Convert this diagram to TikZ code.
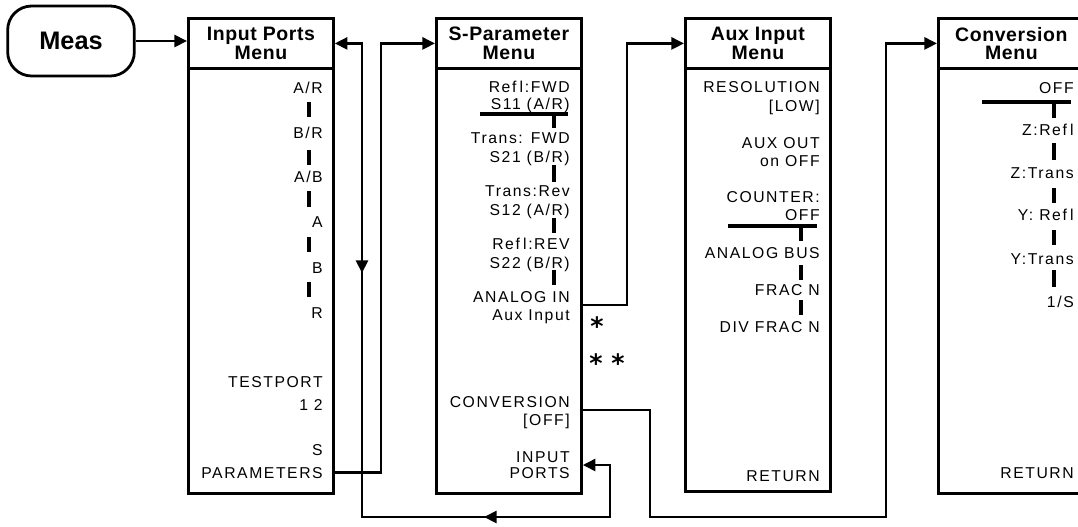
\documentclass[tikz,border=0pt]{standalone}
\usepackage{fontspec}
\setmainfont{Liberation Sans}
\newfontfamily\menuff[LetterSpace=10]{Liberation Sans}
\newfontfamily\headff[LetterSpace=3]{Liberation Sans}
\newfontfamily\astff{DejaVu Sans}
\usetikzlibrary{arrows.meta}
\tikzset{
  mbox/.style={draw, line width=2.1pt, anchor=north west, minimum width=108.75pt, minimum height=356.25pt, inner sep=0pt},
  hbox/.style={draw, line width=2.1pt, anchor=north west, minimum width=108.75pt, minimum height=37.5pt, inner sep=0pt, align=center, font=\headff\bfseries\fontsize{14.6}{13.8}\selectfont},
  itm/.style={anchor=base east, inner sep=0pt, font=\menuff\fontsize{11.8}{12}\selectfont},
  bar/.style={line width=2.3pt},
  conn/.style={line width=2.1pt},
  tip/.style={-{Triangle[length=9.5pt,width=9pt]}},
  ast/.style={anchor=base, inner sep=0pt, font=\astff\bfseries\fontsize{19}{19}\selectfont}
}
\begin{document}
\begin{tikzpicture}[x=0.75pt,y=-0.75pt]
\useasboundingbox (0,0) rectangle (1078,526);
\fill[white] (0,0) rectangle (1078,526);

% Meas
\node[draw, line width=2.1pt, rounded corners=18pt, minimum width=95pt, minimum height=52.5pt, inner sep=0pt, font=\bfseries\fontsize{19}{19}\selectfont] (meas) at (71,41) {Meas};

% Input Ports menu
\node[mbox] (ip) at (187,17) {};
\node[hbox] (iph) at (187,17) {Input Ports\\Menu};
\node[itm] (ip1) at (323,93) {A/R};
\node[itm] (ip2) at (323,138) {B/R};
\node[itm] (ip3) at (323,182) {A/B};
\node[itm] (ip4) at (323,227) {A};
\node[itm] (ip5) at (323,273) {B};
\node[itm] (ip6) at (323,318) {R};
\node[itm] (ip7) at (323,387) {TESTPORT};
\node[itm] (ip8) at (323,410) {1 2};
\node[itm] (ip9) at (323,455) {S};
\node[itm] (ip10) at (323,478) {PARAMETERS};
\foreach \a/\b in {102/117,150/165,191/207,237/252,282/297}
  \draw[bar] (309,\a) -- (309,\b);

% S-Parameter menu
\node[mbox] (sp) at (435,17) {};
\node[hbox] (sph) at (435,17) {S-Parameter\\Menu};
\node[itm] (sp1) at (570,92) {Ref\kern2.5pt l:FWD};
\node[itm] (sp2) at (570,109) {S11 (A/R)};
\node[itm] (sp3) at (570,143) {Trans: FWD};
\node[itm] (sp4) at (570,162) {S21 (B/R)};
\node[itm] (sp5) at (570,196) {Trans:Rev};
\node[itm] (sp6) at (570,215) {S12 (A/R)};
\node[itm] (sp7) at (570,249) {Ref\kern2.5pt l:REV};
\node[itm] (sp8) at (570,268) {S22 (B/R)};
\node[itm] (sp9) at (570,302) {ANALOG IN};
\node[itm] (sp10) at (570,320) {Aux Input};
\node[itm] (sp11) at (570,407) {CONVERSION};
\node[itm] (sp12) at (570,425) {[OFF]};
\node[itm] (sp13) at (570,462) {INPUT};
\node[itm] (sp14) at (570,478) {PORTS};
\draw[bar] (480,114) -- (568,114);
\foreach \a/\b in {114/128,165/182,218/233,270/285}
  \draw[bar] (554,\a) -- (554,\b);
\node[ast] (ast1) at (597,335) {*};
\node[ast] (ast2) at (607,372) {* *};

% Aux Input menu
\node[mbox, minimum height=354.75pt] (ax) at (684,17) {};
\node[hbox] (axh) at (684,17) {Aux Input\\Menu};
\node[itm] (ax1) at (820,92) {RESOLUTION};
\node[itm] (ax2) at (820,111) {[LOW]};
\node[itm] (ax3) at (820,148) {AUX OUT};
\node[itm] (ax4) at (820,166) {on OFF};
\node[itm] (ax5) at (820,202) {COUNTER:};
\node[itm] (ax6) at (820,220) {OFF};
\node[itm] (ax7) at (820,258) {ANALOG BUS};
\node[itm] (ax8) at (820,295) {FRAC N};
\node[itm] (ax9) at (820,332) {DIV FRAC N};
\node[itm] (ax10) at (820,481) {RETURN};
\draw[bar] (728,226) -- (817,226);
\foreach \a/\b in {226/241,265/280,300/315}
  \draw[bar] (801,\a) -- (801,\b);

% Conversion menu
\node[mbox, minimum width=109.5pt] (cv) at (937,17) {};
\node[hbox, minimum width=109.5pt] (cvh) at (937,17) {Conversion\\Menu};
\node[itm] (cv1) at (1074,93) {OFF};
\node[itm] (cv2) at (1074,135) {Z:Ref\kern2.5pt l};
\node[itm] (cv3) at (1074,178) {Z:Trans};
\node[itm] (cv4) at (1074,220) {Y: Ref\kern2.5pt l};
\node[itm] (cv5) at (1074,264) {Y:Trans};
\node[itm] (cv6) at (1074,307) {1/S};
\node[itm] (cv7) at (1074,478) {RETURN};
\draw[bar] (982,102) -- (1071,102);
\foreach \a/\b in {102/118,143/160,188/203,230/245,270/287}
  \draw[bar] (1054,\a) -- (1054,\b);

% helper coordinates
\coordinate (xP) at (381,0);
\coordinate (xL) at (362,0);
\coordinate (xR) at (610,0);
\coordinate (xA) at (627,0);
\coordinate (xC1) at (650,0);
\coordinate (xC2) at (886,0);
\coordinate (yAna) at (0,305);
\coordinate (yConv) at (0,410);
\coordinate (yIP) at (0,465);
\coordinate (yBot) at (0,517);
\coordinate (yDn1) at (0,250);
\coordinate (yDn2) at (0,273);
\coordinate (xB1) at (505,0);
\coordinate (xB2) at (484,0);

% connectors
\draw[conn,tip] (meas.east) -- (meas.east -| iph.west);
\draw[conn,tip,line join=miter] (ip.east |- ip10) -- (xP |- ip10) -- (xP |- sph.west) -- (sph.west);
\draw[conn,tip,line join=miter] (sp.east |- yAna) -- (xA |- yAna) -- (xA |- axh.west) -- (axh.west);
\draw[conn,tip,line join=miter] (sp.east |- yConv) -- (xC1 |- yConv) -- (xC1 |- yBot) -- (xC2 |- yBot) -- (xC2 |- cvh.west) -- (cvh.west);
\draw[conn,line join=miter,{Triangle[length=9.5pt,width=9pt]}-{Triangle[length=9.5pt,width=9pt]}] (iph.east) -- (xL |- iph.east) -- (xL |- yBot) -- (xR |- yBot) -- (xR |- yIP) -- (sp.east |- yIP);
\draw[conn,tip] (xL |- yDn1) -- (xL |- yDn2);
\draw[conn,tip] (xB1 |- yBot) -- (xB2 |- yBot);
\end{tikzpicture}
\end{document}
